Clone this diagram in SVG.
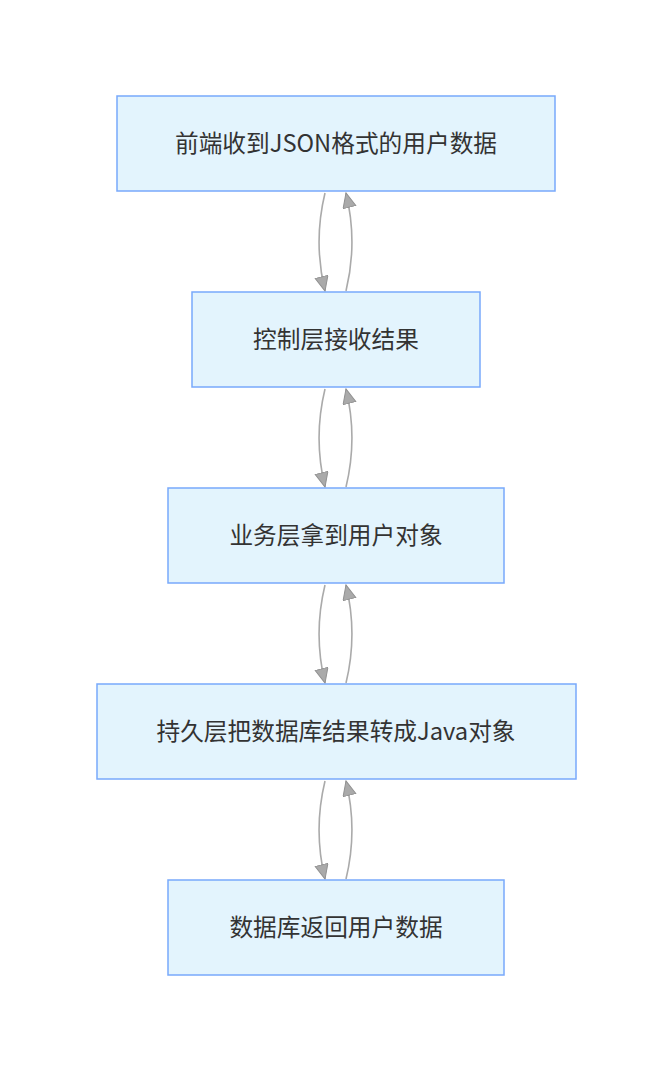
<svg xmlns="http://www.w3.org/2000/svg" width="672" height="1072" viewBox="0 0 672 1072">
<style>
.node rect{fill:#e3f4fd;stroke:#78a9fb;stroke-width:1.5}
.node text{font-family:"Noto Sans CJK SC","Noto Sans",sans-serif;font-size:23.7px;fill:#333;text-anchor:middle;dominant-baseline:central}
.edge{fill:none;stroke:#aaaaaa;stroke-width:1.6}
</style>
<defs>
<marker id="arr" markerUnits="userSpaceOnUse" markerWidth="18" markerHeight="16" refX="15" refY="7" orient="auto">
<path d="M0.5,0.5 L15,7 L0.5,13.5 Z" fill="#aaaaaa" stroke="#919191" stroke-width="1"/>
</marker>
</defs>
<rect width="672" height="1072" fill="#ffffff"/>
<g id="connectors">
<path class="edge" d="M325,193 C317,226 317,258 325,291" marker-end="url(#arr)"/>
<path class="edge" d="M346,291 C354,258 354,226 346,193" marker-end="url(#arr)"/>
<path class="edge" d="M325,389 C317,422 317,454 325,487" marker-end="url(#arr)"/>
<path class="edge" d="M346,487 C354,454 354,422 346,389" marker-end="url(#arr)"/>
<path class="edge" d="M325,585 C317,618 317,650 325,683" marker-end="url(#arr)"/>
<path class="edge" d="M346,683 C354,650 354,618 346,585" marker-end="url(#arr)"/>
<path class="edge" d="M325,781 C317,814 317,846 325,879" marker-end="url(#arr)"/>
<path class="edge" d="M346,879 C354,846 354,814 346,781" marker-end="url(#arr)"/>
</g>
<g id="n1" class="node"><rect x="117" y="96" width="438" height="95"/><text x="336" y="142">前端收到JSON格式的用户数据</text></g>
<g id="n2" class="node"><rect x="192" y="292" width="288" height="95"/><text x="336" y="338">控制层接收结果</text></g>
<g id="n3" class="node"><rect x="168" y="488" width="336" height="95"/><text x="336" y="534">业务层拿到用户对象</text></g>
<g id="n4" class="node"><rect x="97" y="684" width="479" height="95"/><text x="336" y="730">持久层把数据库结果转成Java对象</text></g>
<g id="n5" class="node"><rect x="168" y="880" width="336" height="95"/><text x="336" y="926">数据库返回用户数据</text></g>
</svg>
